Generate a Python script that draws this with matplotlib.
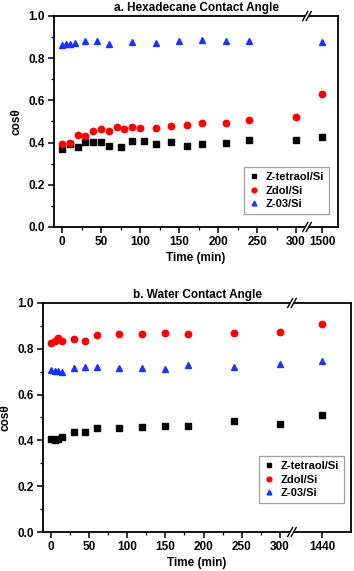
import numpy as np
import matplotlib
matplotlib.use('Agg')
import matplotlib.pyplot as plt
from matplotlib.ticker import FixedLocator, MultipleLocator, FormatStrFormatter

plt.rcParams['font.family'] = ['Liberation Sans', 'DejaVu Sans']
plt.rcParams['font.weight'] = 'bold'

# ---------------- data: panel a (hexadecane) ----------------
a_t_tetraol = [0, 10, 20, 30, 40, 50, 60, 75, 90, 105, 120, 140, 160, 180, 210, 240, 300, 1500]
a_v_tetraol = [0.369, 0.395, 0.378, 0.403, 0.405, 0.402, 0.386, 0.381, 0.406, 0.408, 0.395,
               0.403, 0.386, 0.391, 0.400, 0.411, 0.414, 0.428]
a_t_zdol = [0, 10, 20, 30, 40, 50, 60, 70, 80, 90, 100, 120, 140, 160, 180, 210, 240, 300, 1500]
a_v_zdol = [0.394, 0.398, 0.435, 0.430, 0.454, 0.463, 0.454, 0.474, 0.466, 0.474, 0.471,
            0.471, 0.479, 0.483, 0.493, 0.494, 0.507, 0.520, 0.632]
a_t_z03 = [0, 5, 10, 16, 30, 45, 60, 90, 120, 150, 180, 210, 240, 1500]
a_v_z03 = [0.861, 0.868, 0.868, 0.871, 0.883, 0.880, 0.869, 0.877, 0.872, 0.880, 0.885,
           0.880, 0.882, 0.876]

# ---------------- data: panel b (water) ----------------
b_t = [0, 5, 10, 15, 30, 45, 60, 90, 120, 150, 180, 240, 300, 1440]
b_v_tetraol = [0.406, 0.403, 0.406, 0.415, 0.435, 0.435, 0.455, 0.455, 0.458, 0.463,
               0.465, 0.483, 0.470, 0.511]
b_v_zdol = [0.826, 0.835, 0.847, 0.833, 0.841, 0.835, 0.861, 0.864, 0.864, 0.867,
            0.863, 0.870, 0.874, 0.908]
b_v_z03 = [0.708, 0.705, 0.703, 0.698, 0.717, 0.719, 0.719, 0.714, 0.716, 0.710,
           0.727, 0.721, 0.735, 0.745]

a_xticks = [0, 50, 100, 150, 200, 250, 300, 1500]
b_xticks = [0, 50, 100, 150, 200, 250, 300, 1440]
labels = ['Z-tetraol/Si', 'Zdol/Si', 'Z-03/Si']


def broken_scale(far_val, far_pos, slope=0.05):
    # linear up to 300, then compress the long gap to the last time point
    xs = np.array([-1000.0, 300.0, far_val, far_val + 5000.0])
    ps = np.array([-1000.0, 300.0, far_pos, far_pos + 5000.0 * slope])
    fwd = lambda x: np.interp(x, xs, ps)
    inv = lambda p: np.interp(p, ps, xs)
    return fwd, inv


def setup_panel(ax, title, far_val, far_pos, left_pos, right_pos, brk_pos, xticks):
    fwd, inv = broken_scale(far_val, far_pos)
    ax.set_xscale('function', functions=(fwd, inv))
    ax.set_xlim(inv(left_pos), inv(right_pos))
    ax.set_ylim(0, 1.0)
    ax.xaxis.set_major_locator(FixedLocator(xticks))
    ax.xaxis.set_minor_locator(FixedLocator(list(range(25, 300, 50))))
    ax.set_xticklabels([str(t) for t in xticks])
    ax.yaxis.set_major_locator(MultipleLocator(0.2))
    ax.yaxis.set_minor_locator(MultipleLocator(0.1))
    ax.yaxis.set_major_formatter(FormatStrFormatter('%.1f'))
    ax.tick_params(which='major', direction='out', length=4, width=1.1, labelsize=8.5, pad=2.5)
    ax.tick_params(which='minor', direction='out', length=2.5, width=0.9)
    for sp in ax.spines.values():
        sp.set_linewidth(1.3)
    ax.set_title(title, fontsize=8.5, fontweight='bold', pad=3.5)
    ax.set_xlabel('Time (min)', fontsize=8.5, fontweight='bold', labelpad=3)
    ax.set_ylabel('cos\u03b8', fontsize=8.5, fontweight='bold', labelpad=4)

    # break marks on top and bottom spines
    xb = (brk_pos - left_pos) / (right_pos - left_pos)
    bb = ax.get_position()
    fig_w, fig_h = ax.figure.get_size_inches() * ax.figure.dpi
    wpx, hpx = bb.width * fig_w, bb.height * fig_h
    dx, dy, gap = 2.5 / wpx, 4.5 / hpx, 3.5 / wpx
    for yb in (0.0, 1.0):
        ax.plot([xb - gap / 2, xb + gap / 2], [yb, yb], color='white', lw=3,
                transform=ax.transAxes, clip_on=False, zorder=10, solid_capstyle='butt')
        for off in (-gap / 2, gap / 2):
            ax.plot([xb + off - dx, xb + off + dx], [yb - dy, yb + dy], color='black',
                    lw=1.0, transform=ax.transAxes, clip_on=False, zorder=11)


fig = plt.figure(figsize=(3.54, 5.71), dpi=100)

ax1 = fig.add_axes([0.1525, 0.6025, 0.8025, 0.3695])
ax2 = fig.add_axes([0.1215, 0.0683, 0.870, 0.4011])

setup_panel(ax1, 'a. Hexadecane Contact Angle', 1500, 333.3, -10.3, 353.8, 314, a_xticks)
setup_panel(ax2, 'b. Water Contact Angle', 1440, 355.0, -10.1, 393.0, 315.7, b_xticks)

ms = 4.6
ax1.plot(a_t_tetraol, a_v_tetraol, 's', color='black', ms=4.2, ls='none', label=labels[0])
ax1.plot(a_t_zdol, a_v_zdol, 'o', color='red', ms=ms, ls='none', label=labels[1])
ax1.plot(a_t_z03, a_v_z03, '^', color='#1a33ff', ms=ms, ls='none', label=labels[2])

ax2.plot(b_t, b_v_tetraol, 's', color='black', ms=4.2, ls='none', label=labels[0])
ax2.plot(b_t, b_v_zdol, 'o', color='red', ms=ms, ls='none', label=labels[1])
ax2.plot(b_t, b_v_z03, '^', color='#1a33ff', ms=ms, ls='none', label=labels[2])

for ax, anchor in ((ax1, (0.968, 0.062)), (ax2, (0.977, 0.127))):
    leg = ax.legend(loc='lower right', bbox_to_anchor=anchor, fontsize=8,
                    frameon=True, fancybox=False, borderaxespad=0, handlelength=1.0,
                    handletextpad=0.5, labelspacing=0.3, borderpad=0.45, markerscale=0.75)
    leg.get_frame().set_edgecolor('#888888')
    leg.get_frame().set_linewidth(0.9)
    for t in leg.get_texts():
        t.set_fontweight('bold')

fig.savefig('out.png', dpi=100)
